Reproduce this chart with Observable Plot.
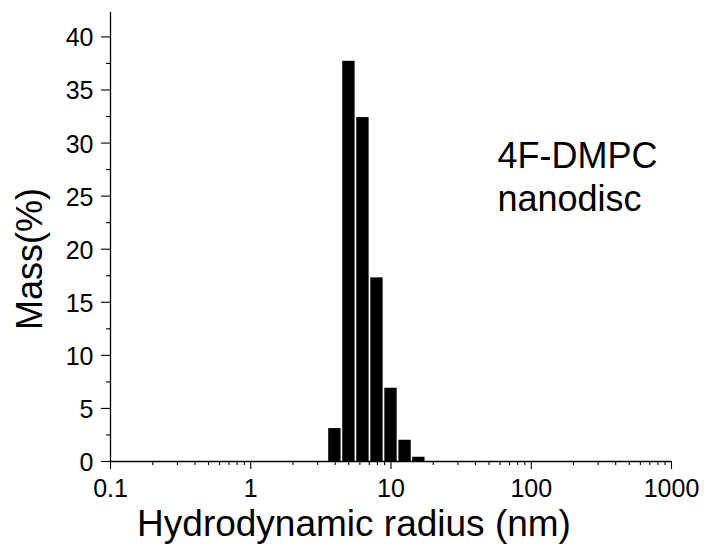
<!DOCTYPE html>
<html>
<head>
<meta charset="utf-8">
<script src="https://cdn.jsdelivr.net/npm/d3@7"></script>
<script src="https://cdn.jsdelivr.net/npm/@observablehq/plot@0.6"></script>
<style>
  html, body { margin: 0; padding: 0; background: #fff; }
  #chart svg { display: block; }
</style>
</head>
<body>
<div id="chart"></div>
<script>
// Data (DLS mass distribution, 4F-DMPC nanodisc)
const radius = [3.98, 5.01, 6.31, 7.94, 10.0, 12.6, 15.8];   // bin centres (nm)
const mass   = [3.1, 37.7, 32.4, 17.3, 6.9, 2.0, 0.4];       // Mass (%)

const xTicks = [0.1, 1, 10, 100, 1000];
const xTickLabels = ["0.1", "1", "10", "100", "1000"];
const yTicks = [0, 5, 10, 15, 20, 25, 30, 35, 40];
const yTickLabels = ["0", "5", "10", "15", "20", "25", "30", "35", "40"];
const yMinor = [2.5, 7.5, 12.5, 17.5, 22.5, 27.5, 32.5, 37.5];
const xMinor = [];
for (const dec of [0.1, 1, 10, 100]) for (let k = 2; k <= 9; k++) xMinor.push(+(dec * k).toPrecision(3));

const annotation = ["4F-DMPC\nnanodisc"];
const xTitle = ["Hydrodynamic radius (nm)"];
const yTitle = ["Mass(%)"];

const data = radius.map((r, i) => ({r, m: mass[i]}));
const halfW = Math.pow(10, 0.044); // bar half-width in log space

const font = "'Liberation Sans', Arial, sans-serif";
const noLabel = () => "";

const chart = Plot.plot({
  width: 709,
  height: 547,
  marginTop: 12,
  marginBottom: 86,
  marginLeft: 110,
  marginRight: 38,
  style: {fontFamily: font, color: "#000", background: "#fff", overflow: "visible"},
  x: {type: "log", domain: [0.1, 1000]},
  y: {domain: [0, 42.3]},
  marks: [
    Plot.rect(data, {
      x1: d => d.r / halfW,
      x2: d => d.r * halfW,
      y1: 0,
      y2: "m",
      fill: "#000"
    }),
    Plot.axisX({ticks: xTicks, tickFormat: noLabel, tickSize: 8, label: null, stroke: "#000", strokeWidth: 1.1}),
    Plot.axisX({ticks: xMinor, tickFormat: noLabel, tickSize: 4, label: null, stroke: "#000", strokeWidth: 1.1}),
    Plot.axisY({ticks: yTicks, tickFormat: noLabel, tickSize: 9, label: null, stroke: "#000", strokeWidth: 1.1}),
    Plot.axisY({ticks: yMinor, tickFormat: noLabel, tickSize: 4, label: null, stroke: "#000", strokeWidth: 1.1}),
    Plot.ruleY([0], {stroke: "#000", strokeWidth: 1.3}),
    Plot.ruleX([0.1], {stroke: "#000", strokeWidth: 1.3}),
    // tick labels
    Plot.text(xTicks, {x: d => d, frameAnchor: "bottom", text: (d, i) => xTickLabels[i],
                       textAnchor: "middle", lineAnchor: "top", dy: 18, fontSize: 25, fill: "#000"}),
    Plot.text(yTicks, {y: d => d, frameAnchor: "left", text: (d, i) => yTickLabels[i],
                       textAnchor: "end", lineAnchor: "middle", dx: -17, dy: 1.5, fontSize: 25, fill: "#000"}),
    // titles
    Plot.text(xTitle, {frameAnchor: "bottom", textAnchor: "middle", dx: -37, dy: 63, fontSize: 37, fill: "#000", lineAnchor: "middle"}),
    Plot.text(yTitle, {frameAnchor: "left", textAnchor: "middle", rotate: -90, dx: -80, dy: 22, fontSize: 36, fill: "#000", lineAnchor: "middle"}),
    Plot.text(annotation, {frameAnchor: "top-left", textAnchor: "start", lineAnchor: "top", dx: 387, dy: 126,
                           fontSize: 36, lineHeight: 1.17, fill: "#000"})
  ]
});
document.getElementById("chart").appendChild(chart);
</script>
</body>
</html>
